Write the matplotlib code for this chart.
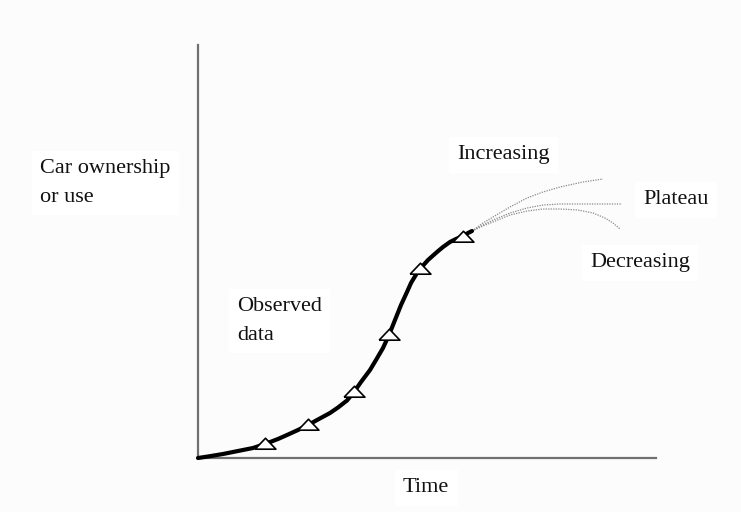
import matplotlib
matplotlib.use("Agg")
import matplotlib.pyplot as plt

# Observed curve (time, car ownership)
curve_time = [0, 10, 25, 40, 55, 67, 80, 89, 100, 110, 120, 132, 140, 149, 156, 163, 172, 178,
              185, 191, 195, 199, 203, 209, 213, 219, 222, 230, 239, 245, 252, 258, 265, 270, 274]
curve_own = [0, 1.5, 4, 7, 10, 14, 19, 23, 28, 33, 38.5, 45, 50.5, 57.5, 66, 76, 88, 98,
             110, 123, 133, 143, 153, 166, 175, 185, 189, 198, 206, 211, 216, 219, 222, 225, 227]

# Observed data points (triangles)
obs_time = [67, 110, 156, 191, 222, 265]
obs_own = [14, 33, 66, 123, 189, 221]

# Scenario projections
inc_time = [274, 285, 295, 312, 329, 345, 362, 385, 405]
inc_own = [227, 235, 241, 251, 260, 266, 271, 276, 279]
plat_time = [274, 285, 295, 312, 329, 345, 362, 390, 424]
plat_own = [227, 233, 238, 245, 250, 253, 254, 254, 254]
dec_time = [274, 285, 295, 312, 329, 345, 362, 380, 395, 407, 415, 422]
dec_own = [227, 232, 236, 243, 247, 249, 249, 248, 245, 240, 235, 229]

W, H = 741, 512
bg = "#fcfcfc"
fig = plt.figure(figsize=(W / 100, H / 100), dpi=100, facecolor=bg)
ax = fig.add_axes([198 / W, 54 / H, 458 / W, 413 / H])
ax.set_facecolor(bg)
ax.set_xlim(0, 458)
ax.set_ylim(0, 413)
for s in ["top", "right"]:
    ax.spines[s].set_visible(False)
for s in ["left", "bottom"]:
    ax.spines[s].set_color("#707070")
    ax.spines[s].set_linewidth(1.6)
ax.set_xticks([])
ax.set_yticks([])

dot = dict(color="#8a8a8a", lw=0.9, linestyle=(0, (1, 1)), clip_on=False)
ax.plot(inc_time, inc_own, **dot)
ax.plot(plat_time, plat_own, **dot)
ax.plot(dec_time, dec_own, **dot)

ax.plot(curve_time, curve_own, color="black", lw=3.0, solid_joinstyle="round",
        solid_capstyle="round", clip_on=False, zorder=3)

tri = [(-1, -0.45), (1, -0.45), (0, 0.6), (-1, -0.45)]
ax.plot(obs_time, obs_own, linestyle="none", marker=tri, markersize=15,
        markerfacecolor="white", markeredgecolor="black", markeredgewidth=1.2,
        clip_on=False, zorder=4)

font = dict(family="Liberation Serif", fontsize=16, color="#111111")
box = dict(facecolor="white", edgecolor="none", pad=6)

def t(x, y, s, **kw):
    fig.text(x / W, 1 - y / H, s, ha="left", va="center", bbox=box, **font, **kw)

t(40, 183, "Car ownership\nor use", linespacing=1.65)
t(237, 321, "Observed\ndata", linespacing=1.65)
t(457, 155, "Increasing")
t(643, 200, "Plateau")
t(590, 263, "Decreasing")
t(403, 488, "Time")

fig.savefig("out.png", dpi=100, facecolor=fig.get_facecolor())
